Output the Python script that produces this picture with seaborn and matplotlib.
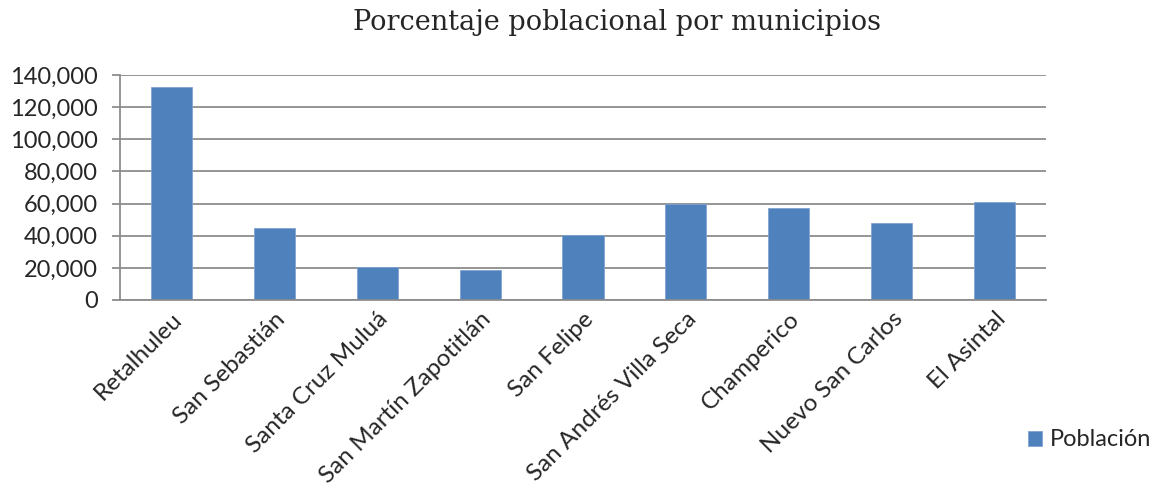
import pandas as pd
import matplotlib
matplotlib.use('Agg')
import matplotlib.pyplot as plt
import seaborn as sns
from matplotlib.ticker import FuncFormatter, FixedLocator

# Data
municipios = ['Retalhuleu', 'San Sebastián', 'Santa Cruz Muluá', 'San Martín Zapotitlán',
              'San Felipe', 'San Andrés Villa Seca', 'Champerico', 'Nuevo San Carlos', 'El Asintal']
poblacion = [132700, 44600, 20700, 18500, 40200, 59700, 57000, 48100, 61000]

df = pd.DataFrame({'municipio': municipios, 'poblacion': poblacion})

sns.set_style('white')
plt.rcParams['font.family'] = ['Lato', 'DejaVu Sans']

fig = plt.figure(figsize=(11.55, 5.04), dpi=100)
ax = fig.add_axes([120 / 1155, 1 - 300 / 504, (1046 - 120) / 1155, 225 / 504])

sns.barplot(data=df, x='municipio', y='poblacion', color='#4F81BD', width=0.4,
            saturation=1, edgecolor='#7FA3D1', linewidth=0.6, label='Población', ax=ax)

ax.set_xlim(-0.5, len(municipios) - 0.5)
ax.set_ylim(0, 140000)
ax.set_yticks(range(0, 140001, 20000))
ax.yaxis.set_major_formatter(FuncFormatter(lambda v, p: f'{int(v):,}'))
ax.yaxis.grid(True, color='#8C8C8C', linewidth=1.3)
ax.set_axisbelow(True)

for s in ['top', 'right']:
    ax.spines[s].set_visible(False)
for s in ['left', 'bottom']:
    ax.spines[s].set_color('#8C8C8C')
    ax.spines[s].set_linewidth(1.3)

# category labels at the centers, tick marks at the boundaries
ax.set_xticks(range(len(municipios)))
ax.set_xticklabels(municipios, rotation=45, ha='right', rotation_mode='anchor', fontsize=17.5)
ax.tick_params(axis='x', which='major', length=0, pad=6)
ax.xaxis.set_minor_locator(FixedLocator([i - 0.5 for i in range(len(municipios) + 1)]))
ax.tick_params(axis='x', which='minor', length=6, color='#8C8C8C', width=1.3, direction='out')
ax.tick_params(axis='y', labelsize=17, length=6, color='#8C8C8C', width=1.3, left=True, pad=10)

ax.set_xlabel('')
ax.set_ylabel('')

fig.text(0.534, 1 - 22 / 504, 'Porcentaje poblacional por municipios', ha='center', va='center',
         fontsize=19.5, family='DejaVu Serif')

ax.legend(loc='center left', bbox_to_anchor=(1007 / 1155, 1 - 440 / 504), bbox_transform=fig.transFigure,
          frameon=False, fontsize=17, handlelength=0.6, handleheight=0.6, handletextpad=0.3)

fig.savefig('out.png', dpi=100)
